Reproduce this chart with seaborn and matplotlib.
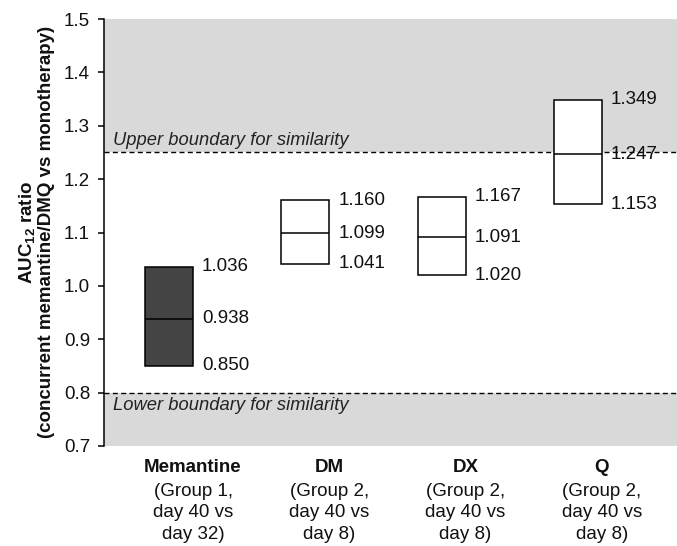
import matplotlib
matplotlib.use("Agg")
import matplotlib.pyplot as plt
import seaborn as sns
import numpy as np

# ---- data ----
categories = ["Memantine", "DM", "DX", "Q"]
subtitles = [
    ["(Group 1,", "day 40 vs", "day 32)"],
    ["(Group 2,", "day 40 vs", "day 8)"],
    ["(Group 2,", "day 40 vs", "day 8)"],
    ["(Group 2,", "day 40 vs", "day 8)"],
]
lower_vals = [0.850, 1.041, 1.020, 1.153]
median_vals = [0.938, 1.099, 1.091, 1.247]
upper_vals = [1.036, 1.160, 1.167, 1.349]
box_colors = ["#444444", "white", "white", "white"]
upper_boundary = 1.25
lower_boundary = 0.80
yticks = [0.7, 0.8, 0.9, 1.0, 1.1, 1.2, 1.3, 1.4, 1.5]
upper_text = "Upper boundary for similarity"
lower_text = "Lower boundary for similarity"
ylabel = "AUC$_{\\mathbf{12}}$ ratio\n(concurrent memantine/DMQ vs monotherapy)"

# ---- style ----
sns.set_theme(style="ticks")
plt.rcParams["font.family"] = ["Liberation Sans", "DejaVu Sans"]
plt.rcParams["mathtext.fontset"] = "custom"
plt.rcParams["mathtext.rm"] = "Liberation Sans"
plt.rcParams["mathtext.bf"] = "Liberation Sans:bold"
plt.rcParams["mathtext.it"] = "Liberation Sans:italic"

FS = 13.5
W, H = 677, 546
fig = plt.figure(figsize=(W / 100, H / 100), dpi=100)
ax = fig.add_axes([104 / W, 100 / H, 573 / W, 427 / H])
ax.set_facecolor("white")

x = np.arange(len(categories))
lo = np.array(lower_vals)
hi = np.array(upper_vals)
med = np.array(median_vals)
bw = 0.352

ax.set_xlim(-0.653, 3.551)
ax.set_ylim(yticks[0], yticks[-1])

# shaded regions outside similarity boundaries
ax.axhspan(upper_boundary, yticks[-1], color="#d9d9d9", lw=0, zorder=0)
ax.axhspan(yticks[0], lower_boundary, color="#d9d9d9", lw=0, zorder=0)
for yb in (upper_boundary, lower_boundary):
    ax.axhline(yb, color="black", lw=1, dashes=(3.6, 2.4), zorder=2)

ax.text(-0.585, upper_boundary + 0.006, upper_text, style="italic",
        fontsize=FS - 0.3, ha="left", va="bottom", color="#222222")
ax.text(-0.585, lower_boundary - 0.008, lower_text, style="italic",
        fontsize=FS - 0.3, ha="left", va="top", color="#222222")

# boxes
ax.bar(x, hi - lo, bottom=lo, width=-bw, align="edge", color=box_colors,
       edgecolor="black", linewidth=1.1, zorder=3)
ax.hlines(med, x - bw, x, colors="black", lw=1.1, zorder=4)

for xi, a, m, b in zip(x, lo, med, hi):
    for v in (a, m, b):
        ax.text(xi + 0.065, v, f"{v:.3f}", fontsize=FS, ha="left",
                va="center", color="#111111", zorder=5)

# category labels
trans = ax.get_xaxis_transform()
line_y = [-0.0515, -0.1054, -0.1569, -0.2084]
for xi, name, subs in zip(x, categories, subtitles):
    ax.text(xi, line_y[0], name, transform=trans, fontsize=FS,
            fontweight="bold", ha="center", va="center", color="#111111")
    for j, s in enumerate(subs):
        ax.text(xi, line_y[j + 1], s, transform=trans, fontsize=FS,
                ha="center", va="center", color="#111111")

# axes styling
sns.despine(ax=ax, bottom=True)
ax.spines["left"].set_color("black")
ax.spines["left"].set_linewidth(1.1)
ax.set_xticks([])
ax.set_yticks(yticks)
ax.set_yticklabels([f"{t:.1f}" for t in yticks], fontsize=FS, color="#111111")
ax.tick_params(axis="y", direction="out", length=4.5, width=1.1,
               color="black", pad=5.5)

fig.text(36 / W, 1 - 232 / H, ylabel, rotation=90, ha="center", va="center",
         fontsize=FS, fontweight="bold", linespacing=1.15,
         multialignment="center", color="#111111")

fig.savefig("out.png", dpi=100)
